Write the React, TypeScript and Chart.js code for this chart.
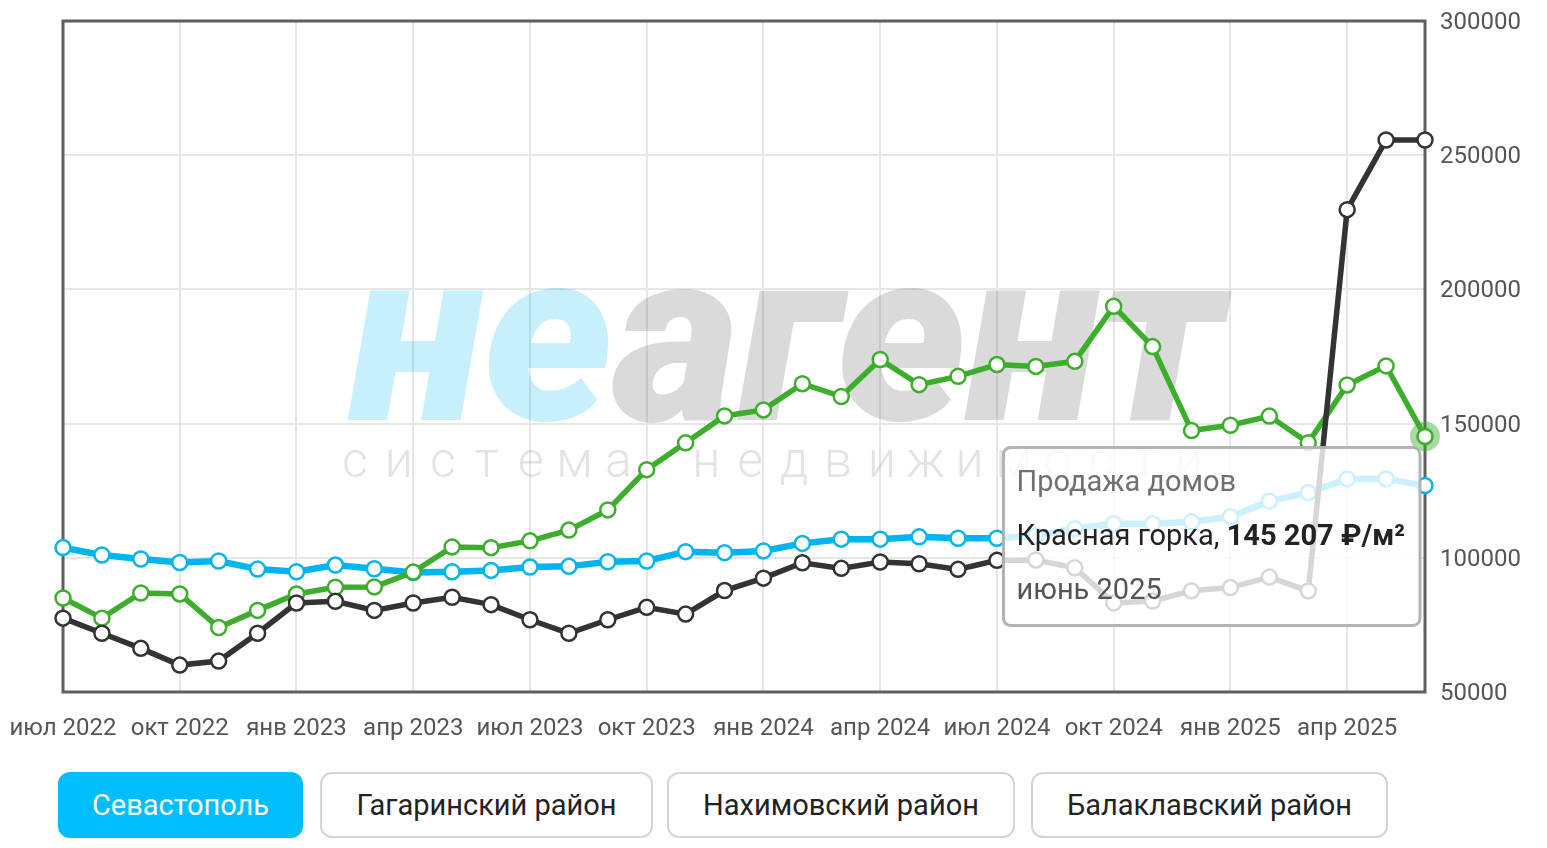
import React, { useEffect, useRef } from "react";
import { Chart, registerables } from "chart.js";

Chart.register(...registerables);

const months = [
  "июл 2022", "авг 2022", "сен 2022", "окт 2022", "ноя 2022", "дек 2022",
  "янв 2023", "фев 2023", "мар 2023", "апр 2023", "май 2023", "июн 2023",
  "июл 2023", "авг 2023", "сен 2023", "окт 2023", "ноя 2023", "дек 2023",
  "янв 2024", "фев 2024", "мар 2024", "апр 2024", "май 2024", "июн 2024",
  "июл 2024", "авг 2024", "сен 2024", "окт 2024", "ноя 2024", "дек 2024",
  "янв 2025", "фев 2025", "мар 2025", "апр 2025", "май 2025", "июн 2025",
];

const cityValues = [
  103800, 101050, 99550, 98240, 98800, 95800, 94790, 97300, 95910, 94490, 94790, 95310,
  96550, 96810, 98540, 98800, 102290, 101920, 102560, 105370, 106950, 106950, 107800, 107300,
  107300, 108200, 110800, 112700, 112700, 113400, 115300, 121100, 124300, 129400, 129400, 126900,
];

const krasnayaGorkaValues = [
  85020, 77520, 86900, 86530, 74030, 80410, 86530, 89040, 89150, 94670, 104060, 103790,
  106310, 110330, 117840, 132850, 142840, 152860, 155110, 164870, 160100, 173880, 164500, 167610,
  172000, 171300, 173200, 193700, 178700, 147400, 149400, 152800, 142900, 164400, 171500, 145207,
];

const otherValues = [
  77520, 71890, 66260, 60020, 61520, 71890, 83150, 83790, 80410, 83150, 85290, 82550,
  76920, 71890, 76920, 81530, 79020, 87800, 92420, 98160, 96060, 98430, 97790, 95690,
  99060, 99200, 96300, 83200, 83900, 87700, 88900, 92800, 87660, 229700, 255650, 255650,
];

const yTicks = [50000, 100000, 150000, 200000, 250000, 300000];

const buttons = ["Севастополь", "Гагаринский район", "Нахимовский район", "Балаклавский район"];

const tooltipTitle = "Продажа домов";
const tooltipSeries = "Красная горка, ";
const tooltipValue = "145 207 ₽/м²";
const tooltipDate = "июнь 2025";
const activeIndex = 35;

const BLUE = "#00b4f0";
const GREEN = "#3cae2c";
const BLACK = "#333333";

const overlayPlugin = {
  id: "overlay",
  beforeDatasetsDraw(chart: any) {
    const { ctx, chartArea } = chart;
    const { left, top, right, bottom } = chartArea;
    ctx.save();
    // watermark
    const main1 = "не";
    const main2 = "агент";
    ctx.font = "italic 900 240px Roboto";
    const w = ctx.measureText(main1 + main2).width;
    const size = (240 * 875) / w;
    ctx.font = `italic 900 ${size}px Roboto`;
    ctx.textBaseline = "alphabetic";
    ctx.textAlign = "left";
    const wx = 342;
    const wy = 412;
    ctx.fillStyle = "rgba(0,180,240,0.22)";
    ctx.fillText(main1, wx, wy);
    const w1 = ctx.measureText(main1).width;
    ctx.fillStyle = "rgba(128,128,128,0.29)";
    ctx.fillText(main2, wx + w1, wy);
    // subtitle
    const sub = "система недвижимости";
    ctx.font = "300 50px Roboto";
    ctx.textAlign = "center";
    ctx.fillStyle = "rgba(128,128,128,0.22)";
    for (let i = 0; i < sub.length; i++) {
      ctx.fillText(sub[i], 347 + i * 43.9, 469);
    }
    // frame
    ctx.strokeStyle = "#5e5e5e";
    ctx.lineWidth = 3;
    ctx.strokeRect(left, top, right - left, bottom - top);
    // halo around active point
    const pt = chart.getDatasetMeta(1).data[activeIndex];
    if (pt) {
      ctx.beginPath();
      ctx.fillStyle = "rgba(60,174,44,0.45)";
      ctx.arc(pt.x, pt.y, 15, 0, Math.PI * 2);
      ctx.fill();
    }
    ctx.restore();
  },
  afterDraw(chart: any) {
    const { ctx } = chart;
    const pt = chart.getDatasetMeta(1).data[activeIndex];
    if (!pt) return;
    ctx.save();
    const fs = 29;
    ctx.font = `${fs}px Roboto`;
    const wTitle = ctx.measureText(tooltipTitle).width;
    const wSer = ctx.measureText(tooltipSeries).width;
    ctx.font = `bold ${fs}px Roboto`;
    const wVal = ctx.measureText(tooltipValue).width;
    const contentW = Math.max(wTitle, wSer + wVal);
    const bw = contentW + 28;
    const bh = 178;
    const bx = pt.x - 5 - bw;
    const by = pt.y + 11;
    ctx.beginPath();
    (ctx as any).roundRect(bx, by, bw, bh, 7);
    ctx.fillStyle = "rgba(255,255,255,0.8)";
    ctx.fill();
    ctx.lineWidth = 3;
    ctx.strokeStyle = "rgba(175,175,175,0.95)";
    ctx.stroke();
    ctx.textBaseline = "middle";
    ctx.textAlign = "left";
    const tx = bx + 13;
    ctx.font = `${fs}px Roboto`;
    ctx.fillStyle = "#707070";
    ctx.fillText(tooltipTitle, tx, by + 36);
    ctx.fillStyle = "#222222";
    ctx.fillText(tooltipSeries, tx, by + 90);
    ctx.font = `bold ${fs}px Roboto`;
    ctx.fillText(tooltipValue, tx + wSer, by + 90);
    ctx.font = `${fs}px Roboto`;
    ctx.fillStyle = "#555555";
    ctx.fillText(tooltipDate, tx, by + 144);
    ctx.restore();
  },
};

export default function App() {
  const ref = useRef<HTMLCanvasElement>(null);

  useEffect(() => {
    if (!ref.current) return;
    Chart.defaults.font.family = "Roboto";
    const ds = (label: string, data: number[], color: string, width: number) => ({
      label,
      data,
      borderColor: color,
      backgroundColor: "#ffffff",
      pointBackgroundColor: "#ffffff",
      pointBorderColor: color,
      pointBorderWidth: 2.5,
      pointRadius: 7.5,
      pointHoverRadius: 7.5,
      borderWidth: width,
      tension: 0,
      fill: false,
    });
    const chart = new Chart(ref.current, {
      type: "line",
      data: {
        labels: months,
        datasets: [
          ds("Другой район", otherValues, BLACK, 5.5),
          ds("Красная горка", krasnayaGorkaValues, GREEN, 5.5),
          ds("Севастополь", cityValues, BLUE, 6.5),
        ],
      },
      options: {
        animation: false,
        responsive: true,
        maintainAspectRatio: false,
        events: [],
        layout: { padding: { left: 55, top: 13, right: 0, bottom: 0 } },
        plugins: {
          legend: { display: false },
          tooltip: { enabled: false },
        },
        scales: {
          x: {
            type: "category",
            offset: false,
            border: { display: false },
            grid: {
              drawTicks: false,
              lineWidth: 2,
              color: (c: any) => (c.index % 3 === 0 ? "#e6e6e6" : "rgba(0,0,0,0)"),
            },
            ticks: {
              autoSkip: false,
              maxRotation: 0,
              minRotation: 0,
              padding: 23,
              color: "#555555",
              font: { size: 24, family: "Roboto" },
              callback: (_v: any, i: number) => (i % 3 === 0 ? months[i] : ""),
            },
            afterFit: (s: any) => {
              s.height = 68;
              s.paddingLeft = 0;
              s.paddingRight = 0;
              s.paddingTop = 0;
              s.paddingBottom = 0;
            },
          },
          y: {
            position: "right",
            min: yTicks[0],
            max: yTicks[yTicks.length - 1],
            border: { display: false },
            grid: { drawTicks: false, lineWidth: 2, color: "#e6e6e6" },
            afterBuildTicks: (s: any) => {
              s.ticks = yTicks.map((v) => ({ value: v }));
            },
            ticks: {
              padding: 15,
              labelOffset: 2,
              color: "#555555",
              font: { size: 24, family: "Roboto" },
              callback: (v: any) => String(v),
            },
            afterFit: (s: any) => {
              s.width = 114;
              s.paddingLeft = 0;
              s.paddingRight = 0;
              s.paddingTop = 0;
              s.paddingBottom = 0;
            },
          },
        },
      },
      plugins: [overlayPlugin],
    } as any);
    return () => chart.destroy();
  }, []);

  const margins = [50, 17, 14, 16];
  const widths = [245, 333, 348, 357];

  return (
    <div style={{ fontFamily: "Roboto, sans-serif" }}>
      <div style={{ position: "relative", width: 1531, height: 752 }}>
        <canvas ref={ref} />
      </div>
      <div style={{ display: "flex", marginTop: 12 }}>
        {buttons.map((b, i) => (
          <div
            key={b}
            style={{
              marginLeft: margins[i],
              width: widths[i],
              height: 66,
              boxSizing: "border-box",
              borderRadius: 12,
              border: i === 0 ? "2px solid #00bdfc" : "2px solid #d4d4d4",
              background: i === 0 ? "#00bdfc" : "#ffffff",
              color: i === 0 ? "#ffffff" : "#222222",
              fontSize: 29,
              display: "flex",
              alignItems: "center",
              justifyContent: "center",
            }}
          >
            {b}
          </div>
        ))}
      </div>
    </div>
  );
}
